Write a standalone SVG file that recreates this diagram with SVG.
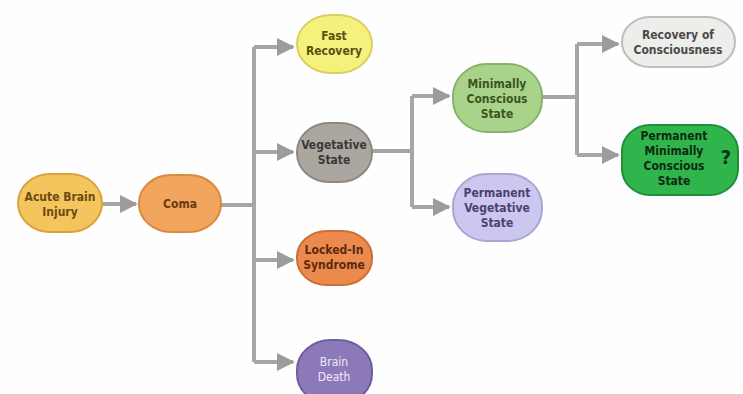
<svg xmlns="http://www.w3.org/2000/svg" width="743" height="394" viewBox="0 0 743 394">
<defs>
<marker id="ah" viewBox="0 0 10 10" refX="9" refY="5" markerWidth="4.5" markerHeight="4.5" orient="auto" markerUnits="strokeWidth">
<path d="M0,0 L10,5 L0,10 Z" fill="#9c9c9c"/>
</marker>
</defs>
<style>
.c{fill:none;stroke:#a6a6a6;stroke-width:4}
.a{marker-end:url(#ah)}
.n{stroke-width:2}
text{font-family:"DejaVu Sans Condensed","Liberation Sans Narrow","Liberation Sans",sans-serif;font-size:12px;font-weight:bold;text-anchor:middle}
</style>
<rect width="743" height="394" fill="#fefefe"/>
<g id="connectors">
<path class="c a" d="M102,204 H136"/>
<path class="c" d="M221,205 H254"/>
<path class="c" d="M254,47 V362"/>
<path class="c a" d="M254,47 H293"/>
<path class="c a" d="M254,152 H293"/>
<path class="c a" d="M254,260 H293"/>
<path class="c a" d="M254,362 H293"/>
<path class="c" d="M372,151 H412"/>
<path class="c" d="M412,96 V207"/>
<path class="c a" d="M412,96 H449"/>
<path class="c a" d="M412,207 H449"/>
<path class="c" d="M542,97 H577"/>
<path class="c" d="M577,44 V155"/>
<path class="c a" d="M577,44 H618"/>
<path class="c a" d="M577,155 H618"/>
</g>
<g id="acute">
<rect class="n" x="18" y="174" width="84" height="58" rx="32" ry="29" fill="#f4c55c" stroke="#d9a23c"/>
<text x="60" y="201" fill="#6a4a12">Acute Brain</text>
<text x="60" y="216" fill="#6a4a12">Injury</text>
</g>
<g id="coma">
<rect class="n" x="139" y="175" width="82" height="57" rx="32" ry="28" fill="#f2a55c" stroke="#d88a3e"/>
<text x="180" y="208" fill="#6a3a12">Coma</text>
</g>
<g id="fast">
<rect class="n" x="297" y="15" width="75" height="58" rx="34" ry="29" fill="#f6f07c" stroke="#d9d062"/>
<text x="334" y="40" fill="#5a5212">Fast</text>
<text x="334" y="55" fill="#5a5212">Recovery</text>
</g>
<g id="vegetative">
<rect class="n" x="297" y="123" width="75" height="59" rx="32" ry="29" fill="#aca6a1" stroke="#8e8883"/>
<text x="334" y="149" fill="#3c3836">Vegetative</text>
<text x="334" y="164" fill="#3c3836">State</text>
</g>
<g id="locked">
<rect class="n" x="297" y="231" width="75" height="54" rx="30" ry="26" fill="#ec8a4e" stroke="#cc6e36"/>
<text x="334" y="254" fill="#5a2a10">Locked-In</text>
<text x="334" y="269" fill="#5a2a10">Syndrome</text>
</g>
<g id="death">
<rect class="n" x="297" y="340" width="75" height="64" rx="34" ry="30" fill="#8b79b9" stroke="#6f5f9c"/>
<text x="334" y="366" fill="#efeaf8" style="font-weight:normal">Brain</text>
<text x="334" y="381" fill="#efeaf8" style="font-weight:normal">Death</text>
</g>
<g id="mcs">
<rect class="n" x="453" y="64" width="89" height="68" rx="34" ry="32" fill="#a9d28b" stroke="#86b26a"/>
<text x="497" y="88" fill="#3a5520">Minimally</text>
<text x="497" y="103" fill="#3a5520">Conscious</text>
<text x="497" y="118" fill="#3a5520">State</text>
</g>
<g id="pvs">
<rect class="n" x="453" y="174" width="89" height="67" rx="34" ry="32" fill="#cbc7ee" stroke="#a9a4d2"/>
<text x="497" y="197" fill="#4a4274">Permanent</text>
<text x="497" y="212" fill="#4a4274">Vegetative</text>
<text x="497" y="227" fill="#4a4274">State</text>
</g>
<g id="recovery">
<rect class="n" x="622" y="17" width="113" height="50" rx="28" ry="25" fill="#ededeb" stroke="#bdbdb9"/>
<text x="678" y="39" fill="#4a4a48">Recovery of</text>
<text x="678" y="54" fill="#4a4a48">Consciousness</text>
</g>
<g id="pmcs">
<rect class="n" x="622" y="125" width="116" height="70" rx="28" ry="26" fill="#2fb54c" stroke="#1f8f38"/>
<text x="674" y="140" fill="#0c2a10">Permanent</text>
<text x="674" y="155" fill="#0c2a10">Minimally</text>
<text x="674" y="170" fill="#0c2a10">Conscious</text>
<text x="674" y="185" fill="#0c2a10">State</text>
<text x="726" y="164" fill="#10301a" style="font-size:20px">?</text>
</g>
</svg>
